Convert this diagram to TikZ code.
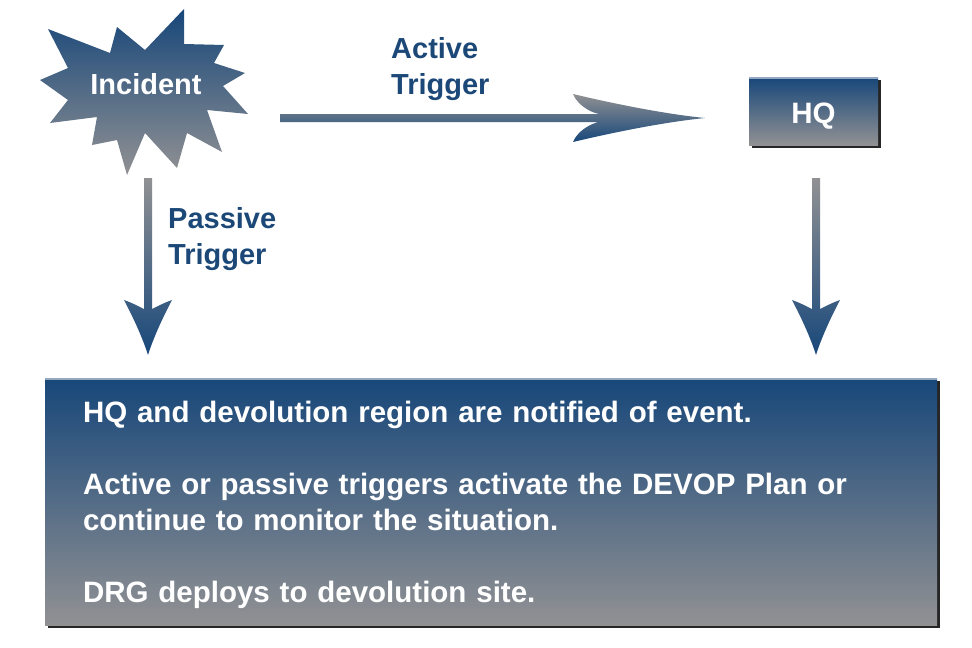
\documentclass[tikz,border=0pt]{standalone}
\usepackage{fontspec}
\setmainfont{Liberation Sans}
\usetikzlibrary{calc,shadows}

\definecolor{devblue}{RGB}{23,71,122}
\definecolor{devgray}{RGB}{145,145,147}
\definecolor{lblblue}{RGB}{28,72,120}
\definecolor{edgelight}{RGB}{150,168,192}

% fat arrow pointing down, shaft from #1, tip at #2
\newcommand{\fatdown}[2]{%
  \shade[fat] ($(#1)+(-4,0)$) -- ($(#2)+(-4,46)$)
    .. controls ($(#2)+(-10,49)$) and ($(#2)+(-18,53)$) .. ($(#2)+(-24,55)$)
    .. controls ($(#2)+(-14,36)$) and ($(#2)+(-5,16)$) .. (#2)
    .. controls ($(#2)+(5,16)$) and ($(#2)+(14,36)$) .. ($(#2)+(24,55)$)
    .. controls ($(#2)+(18,53)$) and ($(#2)+(10,49)$) .. ($(#2)+(4,46)$)
    -- ($(#1)+(4,0)$) -- cycle;}

\begin{document}
\begin{tikzpicture}[x=1pt,y=1pt]
  \tikzstyle{panel}=[rectangle,top color=devblue,bottom color=devgray,text=white,
    font=\fontsize{29.5}{36}\selectfont\bfseries,
    drop shadow={opacity=1,fill=black!85,shadow xshift=3pt,shadow yshift=-3pt},
    path picture={\draw[edgelight,line width=4pt] (path picture bounding box.north west) -- (path picture bounding box.north east);}]
  \tikzstyle{trig}=[text=lblblue,font=\fontsize{29}{36}\selectfont\bfseries,align=left,inner sep=0pt]
  \tikzstyle{fat}=[top color=devgray,bottom color=devblue]

  \useasboundingbox (0,0) rectangle (972,-648);

  % incident burst
  \shade[top color=devblue,bottom color=devgray]
    (184,-9) -- (184,-44) -- (224,-45) -- (214,-63) -- (245,-73) -- (223,-86)
    -- (248,-114) -- (207,-110) -- (222,-152) -- (187,-133) -- (177,-168)
    -- (145,-133) -- (127,-175) -- (117,-140) -- (92,-145) -- (97,-117)
    -- (50,-123) -- (68,-100) -- (40,-80) -- (68,-68) -- (48,-29)
    -- (110,-53) -- (117,-27) -- (145,-50) -- cycle;
  \node[text=white,font=\fontsize{29}{36}\selectfont\bfseries] (inc) at (146,-84) {Incident};

  \node[panel,minimum width=129pt,minimum height=68pt,text height=24pt,text depth=0pt] (hq) at (813.5,-111) {HQ};

  \node[panel,minimum width=892pt,minimum height=247pt,text width=816pt,inner xsep=38pt,align=left] (drg) at (491,-501.5)
    {\rule{0pt}{27.5pt}HQ and devolution region are notified of event.\\[36pt]
     Active or passive triggers activate the DEVOP Plan or\\
     continue to monitor the situation.\\[36pt]
     DRG deploys to devolution site.};

  \coordinate (act-s) at (280,-118);
  \coordinate (act-e) at (705,-118);
  \coordinate (pas-s) at (148,-178);
  \coordinate (pas-e) at (148,-355);
  \coordinate (hqd-s) at (816,-178);
  \coordinate (hqd-e) at (816,-355);

  \shade[fat] ($(act-s)+(0,4)$) -- ($(act-e)+(-106,4)$)
    .. controls ($(act-e)+(-116,6)$) and ($(act-e)+(-128,14)$) .. ($(act-e)+(-132,24)$)
    .. controls ($(act-e)+(-90,14)$) and ($(act-e)+(-40,4)$) .. (act-e)
    .. controls ($(act-e)+(-40,-4)$) and ($(act-e)+(-90,-14)$) .. ($(act-e)+(-132,-24)$)
    .. controls ($(act-e)+(-128,-14)$) and ($(act-e)+(-116,-6)$) .. ($(act-e)+(-106,-4)$)
    -- ($(act-s)+(0,-4)$) -- cycle;
  \fatdown{pas-s}{pas-e}
  \fatdown{hqd-s}{hqd-e}

  \node[trig,anchor=west] (act-l) at (391,-69.5) {Active\\Trigger};
  \node[trig,anchor=west] (pas-l) at (168,-239.5) {Passive\\Trigger};
\end{tikzpicture}
\end{document}
